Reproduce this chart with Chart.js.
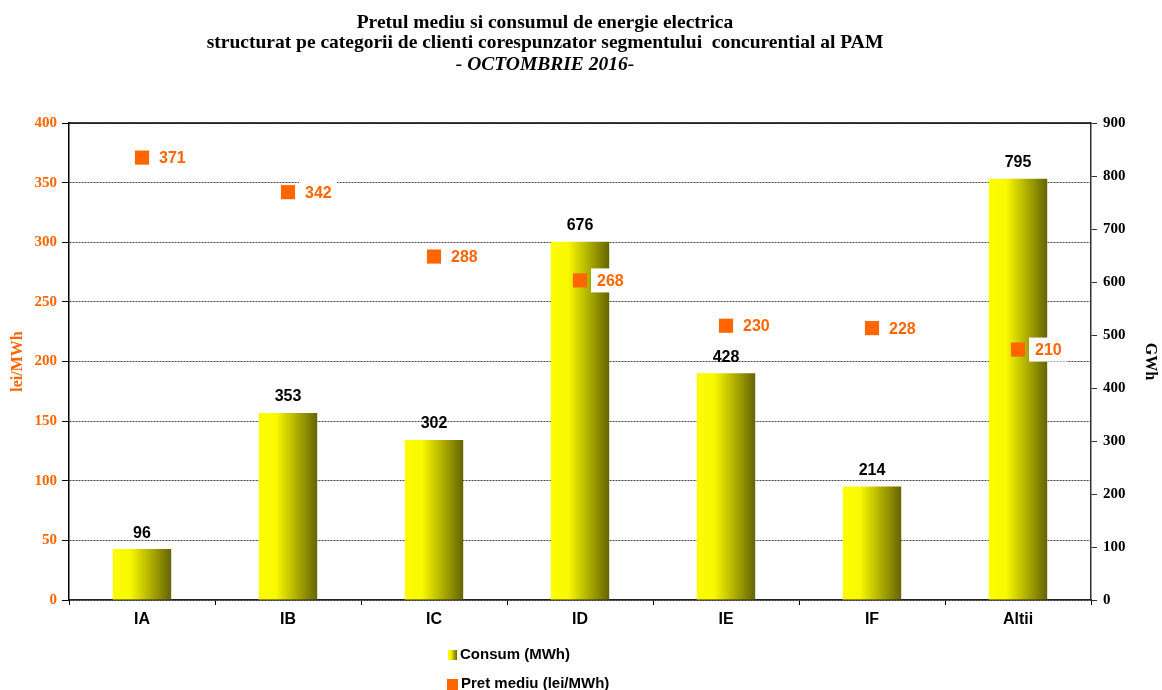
<!DOCTYPE html>
<html>
<head>
<meta charset="utf-8">
<script src="https://cdn.jsdelivr.net/npm/chart.js@4.4.0/dist/chart.umd.min.js"></script>
<style>
    html, body { margin: 0; padding: 0; background: #fff; }
    #wrap { position: relative; width: 1162px; height: 690px; overflow: hidden; }
    #chart { position: absolute; left: 0; top: 0; }
    .title { position: absolute; left: 45px; width: 1000px; text-align: center; font-family: "Liberation Serif", serif; font-weight: bold; font-size: 19.5px; line-height: 22px; color: #000; white-space: nowrap; }
    .legend { position: absolute; left: 447px; font-family: "Liberation Sans", Arial, sans-serif; font-weight: bold; font-size: 15px; color: #000; white-space: nowrap; }
    .legend span.box { display: inline-block; vertical-align: middle; margin-right: 3px; }
</style>
</head>
<body>
<div id="wrap">
    <canvas id="chart" width="1162" height="690"></canvas>
    <div class="title" style="top:11px;">Pretul mediu si consumul de energie electrica</div>
    <div class="title" style="top:31px;">structurat pe categorii de clienti corespunzator segmentului&nbsp; concurential al PAM</div>
    <div class="title" style="top:53px;font-style:italic;">- OCTOMBRIE 2016-</div>
    <div class="legend" style="top:645px;"><span class="box" style="width:9px;height:10px;margin-left:1px;background:linear-gradient(to right,#ffff00,#f0f000 35%,#666600);"></span>Consum (MWh)</div>
    <div class="legend" style="top:674px;"><span class="box" style="width:11px;height:11px;background:#ff6600;"></span>Pret mediu (lei/MWh)</div>
</div>
<script>
// categorii de clienti
const categories = ['IA', 'IB', 'IC', 'ID', 'IE', 'IF', 'Altii'];
// consum (MWh) - axa din dreapta
const consum = [96, 353, 302, 676, 428, 214, 795];
// pret mediu (lei/MWh) - axa din stanga
const pretMediu = [371, 342, 288, 268, 230, 228, 210];

const leftMax = 400, leftStep = 50;
const rightMax = 900, rightStep = 100;

const ORANGE = '#ff6600';

// gradient galben -> oliv pe fiecare bara
const barGradient = {
    id: 'barGradient',
    beforeDatasetsDraw(chart) {
        const ctx = chart.ctx;
        chart.data.datasets.forEach((ds, di) => {
            if (ds.type !== 'bar') return;
            const meta = chart.getDatasetMeta(di);
            meta.data.forEach(bar => {
                const left = bar.x - bar.width / 2;
                const g = ctx.createLinearGradient(left, 0, left + bar.width, 0);
                g.addColorStop(0, '#ffff00');
                g.addColorStop(0.3, '#f8f800');
                g.addColorStop(1, '#646400');
                bar.options = Object.assign({}, bar.options, { backgroundColor: g, borderColor: g });
            });
        });
    }
};

// etichete valori + chenar sus
const valueLabels = {
    id: 'valueLabels',
    afterDatasetsDraw(chart) {
        const ctx = chart.ctx;
        const area = chart.chartArea;
        ctx.save();
        ctx.strokeStyle = '#000';
        ctx.lineWidth = 1.5;
        ctx.beginPath();
        ctx.moveTo(area.left, area.top);
        ctx.lineTo(area.right, area.top);
        ctx.stroke();

        ctx.font = 'bold 16px "Liberation Sans", Arial, sans-serif';
        ctx.textAlign = 'center';
        ctx.textBaseline = 'middle';
        ctx.fillStyle = '#000';
        chart.getDatasetMeta(1).data.forEach((bar, i) => {
            ctx.fillText(consum[i], bar.x, bar.y - 16);
        });

        ctx.font = 'bold 16px "Liberation Sans", Arial, sans-serif';
        ctx.textAlign = 'left';
        chart.getDatasetMeta(0).data.forEach((pt, i) => {
            ctx.fillStyle = '#fff';
            ctx.fillRect(pt.x + 11, pt.y - 12, 38, 24);
            ctx.fillStyle = ORANGE;
            ctx.fillText(pretMediu[i], pt.x + 17, pt.y + 1);
        });
        ctx.restore();
    }
};

new Chart(document.getElementById('chart').getContext('2d'), {
    data: {
        labels: categories,
        datasets: [
            {
                type: 'line',
                label: 'Pret mediu (lei/MWh)',
                data: pretMediu,
                yAxisID: 'y',
                showLine: false,
                pointStyle: 'rect',
                pointRadius: 10,
                pointBackgroundColor: ORANGE,
                pointBorderColor: ORANGE,
                pointBorderWidth: 0
            },
            {
                type: 'bar',
                label: 'Consum (MWh)',
                data: consum,
                yAxisID: 'y1',
                backgroundColor: '#ffff00',
                borderWidth: 0,
                categoryPercentage: 1,
                barPercentage: 0.4
            }
        ]
    },
    options: {
        responsive: false,
        animation: false,
        layout: { padding: { top: 123, left: 0, right: 0, bottom: 0 } },
        plugins: {
            legend: { display: false },
            title: { display: false },
            tooltip: { enabled: false }
        },
        scales: {
            x: {
                offset: true,
                grid: { offset: true, drawOnChartArea: false, tickLength: 5, color: '#000', lineWidth: 1 },
                border: { color: '#222', width: 1.5 },
                ticks: {
                    color: '#000',
                    padding: 5,
                    font: { family: '"Liberation Sans", Arial, sans-serif', weight: 'bold', size: 16 }
                },
                afterFit(scale) { scale.height = 90; }
            },
            y: {
                position: 'left',
                min: 0,
                max: leftMax,
                ticks: {
                    stepSize: leftStep,
                    color: ORANGE,
                    padding: 5,
                    font: { family: '"Liberation Serif", serif', weight: 'bold', size: 15 }
                },
                grid: {
                    color: '#444',
                    lineWidth: 1,
                    tickLength: 7,
                    tickColor: '#000',
                    tickBorderDash: []
                },
                border: { color: '#000', width: 1.5, dash: [2, 1] },
                title: {
                    display: true,
                    text: 'lei/MWh',
                    color: ORANGE,
                    padding: { top: 8, bottom: 0 },
                    font: { family: '"Liberation Serif", serif', weight: 'bold', size: 16 }
                },
                afterFit(scale) { scale.width = 69; }
            },
            y1: {
                position: 'right',
                min: 0,
                max: rightMax,
                ticks: {
                    stepSize: rightStep,
                    color: '#000',
                    padding: 6,
                    font: { family: '"Liberation Serif", serif', weight: 'bold', size: 15 }
                },
                grid: { drawOnChartArea: false, tickLength: 6, color: '#333' },
                border: { color: '#333', width: 1.5 },
                title: {
                    display: true,
                    text: 'GWh',
                    color: '#000',
                    padding: { top: 2, bottom: 0 },
                    font: { family: '"Liberation Serif", serif', weight: 'bold', size: 16 }
                },
                afterFit(scale) { scale.width = 71; }
            }
        }
    },
    plugins: [barGradient, valueLabels]
});
</script>
</body>
</html>
